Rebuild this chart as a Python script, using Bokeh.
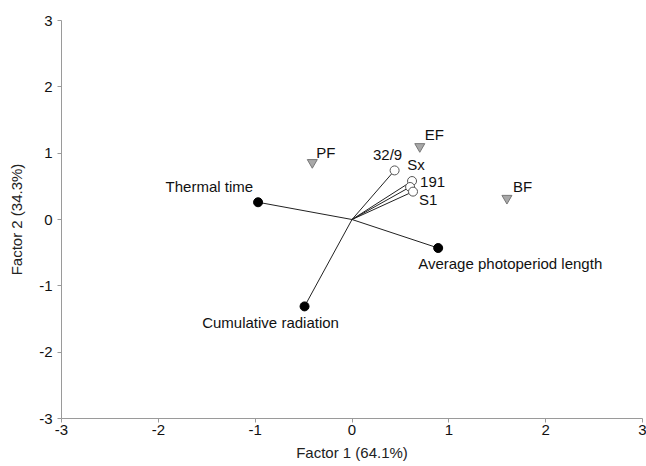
from bokeh.plotting import figure
from bokeh.models import Range1d, FixedTicker, CustomJSTickFormatter
from bokeh.core.properties import value
from bokeh.embed import file_html
from bokeh.resources import INLINE

# Environmental variables (black dots)
var_names = ["Thermal time", "Cumulative radiation", "Average photoperiod length"]
var_x = [-0.97, -0.49, 0.89]
var_y = [0.26, -1.31, -0.43]

# Genotypes (open circles)
gen_names = ["32/9", "Sx", "191", "S1"]
gen_x = [0.44, 0.62, 0.60, 0.63]
gen_y = [0.74, 0.58, 0.49, 0.42]

# Environments (grey triangles)
env_names = ["PF", "EF", "BF"]
env_x = [-0.41, 0.70, 1.60]
env_y = [0.86, 1.10, 0.32]

ticks = [-3, -2, -1, 0, 1, 2, 3]
x_title = "Factor 1 (64.1%)"
y_title = "Factor 2 (34.3%)"

FONT = "Liberation Sans"
FS = "15px"

p = figure(width=646, height=466, output_backend="svg", toolbar_location=None,
           x_range=Range1d(-3, 3), y_range=Range1d(-3, 3),
           min_border_left=61, min_border_right=4, min_border_top=20, min_border_bottom=48)
p.outline_line_color = None
p.grid.visible = False

for ax in (p.xaxis[0], p.yaxis[0]):
    ax.ticker = FixedTicker(ticks=ticks)
    ax.formatter = CustomJSTickFormatter(code="return tick.toString();")
    ax.axis_line_color = "#9a9a9a"
    ax.major_tick_line_color = "#9a9a9a"
    ax.minor_tick_line_color = None
    ax.major_tick_out = 4
    ax.major_tick_in = 0
    ax.major_label_text_font = FONT
    ax.major_label_text_font_size = FS
    ax.major_label_text_color = "#111111"
    ax.axis_label_text_font = FONT
    ax.axis_label_text_font_size = FS
    ax.axis_label_text_font_style = "normal"
    ax.axis_label_text_color = "#222222"

p.xaxis.axis_label = x_title
p.yaxis.axis_label = y_title
p.xaxis.major_label_standoff = 2
p.yaxis.major_label_standoff = 5
p.xaxis.axis_label_standoff = 6
p.yaxis.axis_label_standoff = 11

# vectors from origin
all_x = var_x + gen_x
all_y = var_y + gen_y
p.segment(x0=[0] * len(all_x), y0=[0] * len(all_y), x1=all_x, y1=all_y,
          line_color="#222222", line_width=1)

p.scatter(var_x, var_y, marker="circle", size=9, fill_color="black", line_color="black")
p.scatter(gen_x, gen_y, marker="circle", size=9, fill_color="white", line_color="#555555", line_width=1)
p.scatter(env_x, env_y, marker="inverted_triangle", size=10, fill_color="#a8a8a8", line_color="#777777", line_width=1)

def labels(xs, ys, names, aligns, xo, yo):
    for x, y, n, a, dx, dy in zip(xs, ys, names, aligns, xo, yo):
        p.text(x=[x], y=[y], text=[n], text_align=a, text_baseline="middle",
               x_offset=dx, y_offset=dy, text_font=value(FONT),
               text_font_size=FS, text_color="#111111")

labels(var_x, var_y, var_names, ["right", "center", "left"], [-5, -34, -20], [-16, 16, 15])
labels(gen_x, gen_y, gen_names, ["center", "center", "left", "left"], [-7, 4, 10, 6], [-16, -17, -5, 8])
labels(env_x, env_y, env_names, ["left", "left", "left"], [4, 5, 6], [-10, -12, -12])

open("out.html", "w").write(file_html(p, INLINE))
